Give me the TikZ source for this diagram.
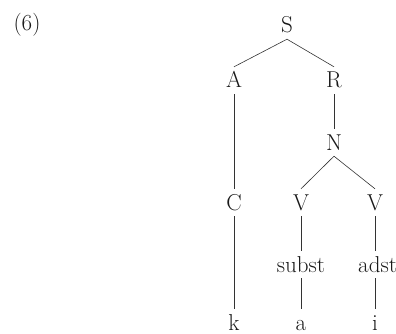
\documentclass[tikz,border=0pt]{standalone}
\begin{document}
\begin{tikzpicture}[x=1pt,y=-1pt,
  lab/.style={font=\fontsize{23}{27}\selectfont, text=black!90, inner xsep=2pt, inner ysep=6pt, text height=15pt, text depth=0pt},
  br/.style={draw=black!80, line width=0.6pt}]
\useasboundingbox (0,0) rectangle (396,334);
\node[lab] (ex) at (27,23) {(6)};
\node[lab] (S) at (287,25.5) {S};
\node[lab] (A) at (234,80.5) {A};
\node[lab] (R) at (334,80.5) {R};
\node[lab] (N) at (334,142.5) {N};
\node[lab] (C) at (234,202.5) {C};
\node[lab] (V1) at (301,202.5) {V};
\node[lab] (V2) at (375,202.5) {V};
\node[lab] (sub) at (301,264.5) {subst};
\node[lab, anchor=west] (ad) at (356,264.5) {adst};
\node[lab] (k) at (234,322.5) {k};
\node[lab] (a) at (301,322.5) {a};
\node[lab] (i) at (375,322.5) {i};
\draw[br] (S.south) -- (A.north);
\draw[br] (S.south) -- (R.north);
\draw[br] (A) -- (C);
\draw[br] (C) -- (k);
\draw[br] (R) -- (N);
\draw[br] (N.south) -- (V1.north);
\draw[br] (N.south) -- (V2.north);
\draw[br] (V1) -- (sub);
\draw[br] (sub) -- (a);
\draw[br] (V2) -- (V2 |- ad.north);
\draw[br] (i |- ad.south) -- (i);
\end{tikzpicture}
\end{document}
